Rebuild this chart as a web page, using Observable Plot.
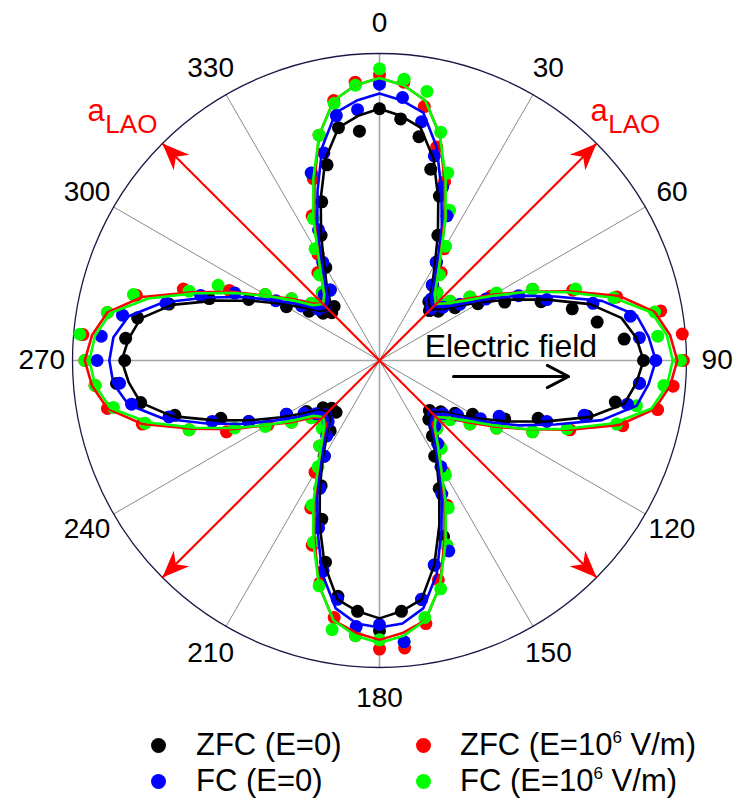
<!DOCTYPE html>
<html><head><meta charset="utf-8">
<script src="https://cdn.jsdelivr.net/npm/d3@7"></script>
<script src="https://cdn.jsdelivr.net/npm/@observablehq/plot@0.6"></script>
<style>
body{margin:0;background:#fff;font-family:"Liberation Sans",Arial,sans-serif;}
#legend{position:relative;width:735px;height:89px;}
.item{position:absolute;font-size:31px;line-height:30px;height:30px;white-space:nowrap;color:#000;}
.item .sup{font-size:17px;line-height:17px;position:relative;top:-12px;vertical-align:baseline;}
.sw{position:absolute;width:15px;height:15px;border-radius:50%;}
</style></head><body>
<div id="chart"></div>
<div id="legend"></div>
<script>
// Angles (degrees, clockwise from top) of measurement points and fit curve
const angles = [0,5,10,15,20,25,30,35,40,45,50,55,60,65,70,75,80,85,90,95,100,105,110,115,120,125,130,135,140,145,150,155,160,165,170,175,180,185,190,195,200,205,210,215,220,225,230,235,240,245,250,255,260,265,270,275,280,285,290,295,300,305,310,315,320,325,330,335,340,345,350,355];

// Measured points (radius relative to outer circle)
const zfc0Pts = [.82,.79,.74,.645,.57,.45,.37,.30,.25,.23,.25,.30,.37,.45,.56,.65,.72,.80,.86,.85,.78,.70,.55,.45,.35,.30,.26,.23,.25,.30,.36,.46,.61,.69,.79,.82,.88,.82,.78,.68,.55,.45,.36,.28,.22,.22,.24,.29,.35,.47,.55,.69,.79,.86,.83,.83,.80,.71,.59,.47,.35,.28,.24,.22,.23,.28,.35,.45,.55,.66,.77,.75];
const fc0Pts = [.90,.86,.79,.69,.60,.52,.37,.30,.26,.24,.27,.32,.40,.50,.58,.72,.83,.85,.90,.85,.82,.69,.58,.43,.38,.31,.27,.25,.28,.33,.40,.48,.66,.69,.79,.92,.86,.87,.79,.71,.58,.46,.36,.30,.26,.25,.27,.30,.35,.47,.58,.71,.82,.85,.92,.91,.85,.72,.62,.52,.39,.31,.26,.25,.28,.28,.37,.47,.65,.70,.81,.82];
const zfcEPts = [.93,.91,.84,.72,.62,.53,.42,.35,.29,.27,.30,.36,.42,.55,.67,.80,.93,.99,.99,.96,.92,.82,.66,.55,.44,.36,.29,.27,.29,.34,.42,.52,.64,.74,.87,.94,.94,.90,.85,.75,.64,.53,.42,.34,.28,.27,.29,.35,.42,.55,.66,.80,.90,.93,.96,.97,.90,.82,.68,.54,.43,.35,.29,.27,.29,.35,.40,.52,.63,.76,.86,.91];
const fcEPts = [.95,.92,.89,.77,.65,.54,.43,.34,.29,.27,.30,.36,.44,.55,.68,.79,.91,.91,.98,.93,.85,.80,.65,.55,.44,.36,.30,.27,.29,.35,.43,.53,.64,.77,.85,.92,.91,.90,.89,.76,.63,.52,.40,.34,.29,.27,.29,.35,.43,.52,.66,.79,.88,.93,.96,.98,.90,.83,.66,.58,.43,.35,.29,.27,.29,.34,.42,.51,.65,.76,.85,.90];

// Fitted curves (radius relative to outer circle)
const zfc0Fit = [.82,.80,.77,.68,.56,.45,.36,.30,.25,.235,.26,.31,.38,.47,.58,.71,.80,.84,.86,.84,.81,.71,.58,.47,.38,.31,.26,.237,.25,.30,.37,.46,.57,.69,.79,.82,.84,.82,.79,.69,.57,.46,.37,.30,.25,.235,.25,.30,.37,.46,.57,.70,.79,.82,.84,.82,.79,.70,.57,.46,.37,.30,.25,.233,.25,.30,.36,.45,.56,.68,.77,.80];
const fc0Fit = [.87,.85,.82,.72,.59,.48,.38,.31,.26,.25,.27,.32,.40,.50,.61,.75,.85,.88,.90,.88,.85,.75,.61,.50,.40,.32,.27,.25,.26,.31,.38,.48,.59,.72,.82,.86,.87,.86,.82,.72,.59,.48,.38,.31,.26,.245,.26,.32,.39,.49,.60,.73,.83,.87,.88,.87,.83,.73,.60,.49,.39,.32,.26,.246,.26,.31,.38,.48,.59,.72,.82,.85];
const zfcEFit = [.92,.90,.86,.76,.62,.50,.40,.33,.28,.26,.29,.35,.43,.53,.66,.81,.91,.95,.97,.95,.91,.81,.66,.53,.43,.35,.29,.26,.27,.33,.40,.50,.62,.76,.86,.89,.91,.89,.86,.76,.62,.50,.40,.33,.27,.26,.29,.35,.42,.53,.65,.80,.90,.94,.96,.94,.90,.80,.65,.53,.42,.35,.29,.26,.28,.33,.40,.50,.62,.76,.86,.90];
const fcEFit = [.92,.90,.86,.76,.63,.51,.40,.33,.28,.26,.29,.34,.42,.53,.65,.79,.90,.94,.955,.94,.90,.79,.65,.53,.42,.34,.29,.26,.28,.33,.40,.51,.63,.76,.86,.90,.92,.90,.86,.76,.63,.51,.40,.33,.28,.26,.28,.34,.42,.52,.64,.78,.89,.93,.945,.93,.89,.78,.64,.52,.42,.34,.28,.26,.28,.33,.40,.51,.63,.76,.86,.90];

const seriesNames = ["ZFC (E=0)", "FC (E=0)", "ZFC (E=10^6 V/m)", "FC (E=10^6 V/m)"];
const seriesColors = ["#000000", "#0000ff", "#ff0000", "#00ff00"];

// Polar grid
const spokeAngles = [0,30,60,90,120,150,180,210,240,270,300,330];
const tickLabels = ["0","30","60","90","120","150","180","210","240","270","300","330"];
const laoAngles = [45,135,225,315];

// Annotations (in chart units)
const fieldText = {x: 0.147, y: 0.046, text: "Electric field"};
const fieldArrow = {x1: 0.241, x2: 0.616, y: -0.052};
const laoLabels = [{x: -0.951, y: 0.812, xs: -0.893, ys: 0.768}, {x: 0.687, y: 0.812, xs: 0.745, ys: 0.768}];

const rad = Math.PI / 180;
const polar = (theta, r) => ({x: r * Math.sin(theta * rad), y: r * Math.cos(theta * rad)});

const ptsAll = [zfc0Pts, fc0Pts, zfcEPts, fcEPts];
const fitAll = [zfc0Fit, fc0Fit, zfcEFit, fcEFit];

const pointRows = [], fitRows = [];
ptsAll.forEach((arr, s) => arr.forEach((r, i) => pointRows.push({s, ...polar(angles[i], r)})));
fitAll.forEach((arr, s) => arr.forEach((r, i) => fitRows.push({s, ...polar(angles[i], r)})));

const spokes = spokeAngles.map(a => ({x1: 0, y1: 0, ...polar(a, 1), main: a % 90 === 0}));
const ticks = spokeAngles.map((a, i) => ({...polar(a, 1.1), text: tickLabels[i]}));
const lao = laoAngles.map(a => ({x1: 0, y1: 0, ...polar(a, 1.0), a}));

const headSymbol = {draw(ctx) { ctx.moveTo(0, 0); ctx.lineTo(-11, 27); ctx.lineTo(0, 19); ctx.lineTo(11, 27); ctx.closePath(); }};

const marks = [
  Plot.link(spokes, {x1: "x1", y1: "y1", x2: "x", y2: "y", stroke: d => d.main ? "#a6a6a6" : "#8a8a8a", strokeWidth: d => d.main ? 1.6 : 1}),
  Plot.dot([{x: 0, y: 0}], {x: "x", y: "y", r: 307, fill: "none", stroke: "#1a1a48", strokeWidth: 1.3}),
  Plot.text(ticks, {x: "x", y: "y", text: "text", fontSize: 28, textAnchor: "middle", lineAnchor: "middle", fill: "#000"})
];
[0, 2, 3, 1].forEach(s => {
  marks.push(Plot.dot(pointRows.filter(d => d.s === s), {x: "x", y: "y", r: 6.5, fill: seriesColors[s], stroke: "none"}));
});
[0, 1, 2, 3].forEach(s => {
  marks.push(Plot.line(fitRows.filter(d => d.s === s), {x: "x", y: "y", stroke: seriesColors[s], strokeWidth: 2.6, curve: "linear-closed"}));
});
marks.push(
  Plot.link(lao, {x1: "x1", y1: "y1", x2: "x", y2: "y", stroke: "#ff0000", strokeWidth: 2.2}),
  Plot.dot(lao, {x: "x", y: "y", symbol: headSymbol, rotate: "a", fill: "#ff0000", stroke: "none", r: 5}),
  Plot.text(laoLabels, {x: "x", y: "y", text: () => "a", fontSize: 31, textAnchor: "start", lineAnchor: "middle", fill: "#ff0000"}),
  Plot.text(laoLabels, {x: "xs", y: "ys", text: () => "LAO", fontSize: 26, textAnchor: "start", lineAnchor: "middle", fill: "#ff0000"}),
  Plot.text([fieldText], {x: "x", y: "y", text: "text", fontSize: 32, textAnchor: "start", lineAnchor: "middle", fill: "#000"}),
  Plot.arrow([fieldArrow], {x1: "x1", x2: "x2", y1: "y", y2: "y", stroke: "#000", strokeWidth: 3, headLength: 12, headAngle: 55})
);

const chart = Plot.plot({
  width: 735, height: 720,
  marginLeft: 72, marginRight: 49, marginTop: 53, marginBottom: 53,
  x: {domain: [-1, 1], axis: null},
  y: {domain: [-1, 1], axis: null},
  style: {fontFamily: "'Liberation Sans', Arial, sans-serif", background: "#fff", overflow: "visible"},
  marks
});
document.getElementById("chart").appendChild(chart);

// Legend
const legend = document.getElementById("legend");
const legendPos = [{dx: 151, tx: 196, cy: 25}, {dx: 151, tx: 196, cy: 61}, {dx: 416, tx: 460, cy: 25}, {dx: 416, tx: 460, cy: 61}];
seriesNames.forEach((name, s) => {
  const p = legendPos[s];
  const sw = document.createElement("div");
  sw.className = "sw";
  sw.style.left = p.dx + "px";
  sw.style.top = (p.cy - 7) + "px";
  sw.style.background = seriesColors[s];
  legend.appendChild(sw);
  const t = document.createElement("div");
  t.className = "item";
  t.style.left = p.tx + "px";
  t.style.top = (p.cy - 15) + "px";
  const m = name.match(/^(.*10)\^(\d)(.*)$/);
  if (m) {
    t.append(m[1]);
    const sup = document.createElement("span");
    sup.className = "sup";
    sup.textContent = m[2];
    t.append(sup);
    t.append(" " + m[3].trim());
  } else t.textContent = name;
  legend.appendChild(t);
});
</script>
</body></html>
